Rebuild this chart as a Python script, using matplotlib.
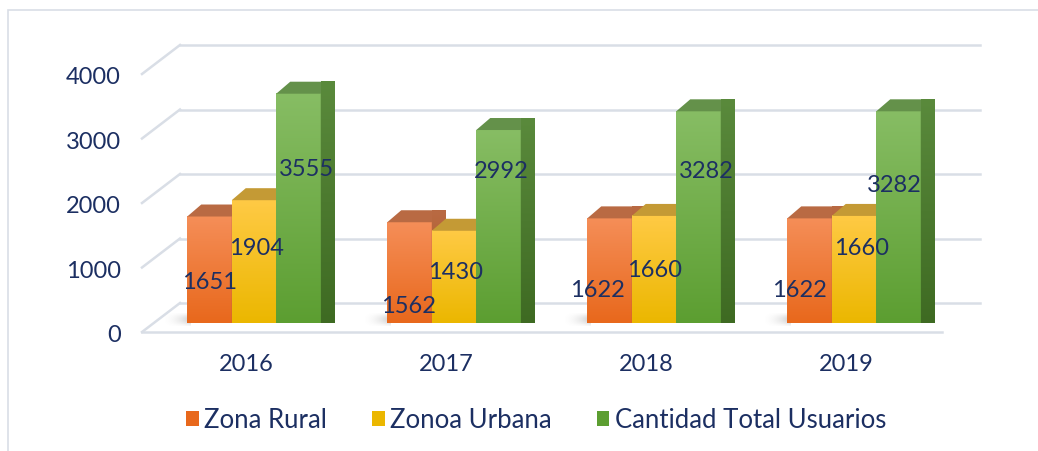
import matplotlib.pyplot as plt
import numpy as np
from matplotlib.colors import LinearSegmentedColormap
from matplotlib.patches import Polygon, Patch, Rectangle

years = ['2016', '2017', '2018', '2019']
series = ['Zona Rural', 'Zonoa Urbana', 'Cantidad Total Usuarios']
rural = [1651, 1562, 1622, 1622]
urbana = [1904, 1430, 1660, 1660]
total = [3555, 2992, 3282, 3282]
yticks = [0, 1000, 2000, 3000, 4000]

# where Excel put each data label (value units / pixel shift)
label_y = [[651, 1178, 2388], [264, 800, 2357], [527, 837, 2357], [527, 1178, 2155]]
label_dx = [[0, 2, 8], [-1, 2, 3], [-12, 1, 8], [-10, 8, -4]]

front_cols = [('#e8681c', '#f58e58'), ('#ebb700', '#ffca45'), ('#5c9e31', '#87bd64')]
top_cols = ['#b96a43', '#c49a35', '#64914a']
side_cols = [('#a8521a', '#b96a43'), ('#a07a10', '#c49a35'), ('#3e6a22', '#5a8a3c')]
text_col = '#1c2f62'
grid_col = '#d9dee6'

plt.rcParams['font.family'] = ['Lato', 'DejaVu Sans']
fs = 17

fig = plt.figure(figsize=(10.38, 4.52), dpi=100)
ax = fig.add_axes([154 / 1038, 128 / 452, 800 / 1038, 258 / 452])
ax.set_xlim(-0.5, 3.5)
ax.set_ylim(0, 4000)
ax.axis('off')

px = 1 / 200.0          # data x units per pixel
py = 4000 / 258.0       # data y units per pixel
ddx, ddy = 14 * px, 12 * py      # bar depth
bx, by = 26 * px, 20 * py        # back wall
fx, fy = -12 * px, -9 * py       # front edge

# chart border
fig.patches.append(Rectangle((8 / 1038, -0.1), 1.2, 1 - 11 / 452 + 0.1, transform=fig.transFigure,
                             fill=False, ec=grid_col, lw=1.2))

# walls / gridlines
for v in yticks:
    ax.plot([-0.5 + bx, 3.5 + bx], [v + by, v + by], color=grid_col, lw=1.8, clip_on=False, zorder=1)
    ax.plot([-0.5 + fx, -0.5 + bx], [v + fy, v + by], color=grid_col, lw=1.8, clip_on=False, zorder=1)
    ax.text(-0.5 + fx - 21 * px, v + fy - 3 * py, f'{v}', ha='right', va='center',
            fontsize=fs, color=text_col)
ax.plot([-0.5 + fx, 3.5 + fx], [fy, fy], color=grid_col, lw=1.8, clip_on=False, zorder=1)

w = 0.2225
grad = np.linspace(0, 1, 256).reshape(-1, 1)
# soft floor shadow, dark next to the bars
shadow = np.zeros((8, 64, 4))
shadow[..., :3] = 0.35
shadow[..., 3] = np.linspace(0, 0.55, 64)[None, :] ** 2 * np.sin(np.linspace(0.2, np.pi - 0.2, 8))[:, None]
values = [rural, urbana, total]
for i in range(len(years)):
    gx = i - 1.5 * w
    ax.imshow(shadow, extent=(gx - 26 * px, gx + 4 * px, -3 * py, 10 * py), aspect='auto',
              zorder=1.5, clip_on=False, interpolation='bilinear')
    for k, vals in enumerate(values):
        h = vals[i]
        x0 = i + (k - 1) * w - w / 2
        x1 = x0 + w
        z = 2 + i * 0.1 + k * 0.01
        rect = ax.bar(x0, h, width=w, align='edge', color=front_cols[k][1], zorder=z)[0]
        cm = LinearSegmentedColormap.from_list('f', front_cols[k])
        im = ax.imshow(grad, extent=(x0, x1, 0, h), origin='lower', aspect='auto', cmap=cm,
                       zorder=z + 0.001, clip_on=False)
        im.set_clip_path(rect)
        ax.add_patch(Polygon([(x0, h), (x1, h), (x1 + ddx, h + ddy), (x0 + ddx, h + ddy)],
                             closed=True, color=top_cols[k], zorder=z + 0.002, clip_on=False, lw=0))
        side = Polygon([(x1, 0), (x1 + ddx, ddy), (x1 + ddx, h + ddy), (x1, h)],
                       closed=True, color=side_cols[k][1], zorder=z + 0.002, clip_on=False, lw=0)
        ax.add_patch(side)
        scm = LinearSegmentedColormap.from_list('s', side_cols[k])
        sim = ax.imshow(grad, extent=(x1, x1 + ddx, 0, h + ddy), origin='lower', aspect='auto',
                        cmap=scm, zorder=z + 0.003, clip_on=False)
        sim.set_clip_path(side)
        ax.text(x0 + w / 2 + label_dx[i][k] * px, label_y[i][k], f'{h}', ha='center', va='center',
                fontsize=fs, color=text_col, zorder=20)
    ax.text(i - 8 * px, -41 * py, years[i], ha='center', va='center', fontsize=fs, color=text_col)

ax.set_xlim(-0.5, 3.5)
ax.set_ylim(0, 4000)

handles = [Patch(facecolor=front_cols[k][0], label=series[k]) for k in range(3)]
fig.legend(handles=handles, loc='center', bbox_to_anchor=(536 / 1038, 1 - 421 / 452), ncol=3,
           frameon=False, fontsize=18.5, labelcolor=text_col, handlelength=0.5, handleheight=0.55,
           handletextpad=0.2, columnspacing=1.75)

fig.savefig('out.png', dpi=100)
